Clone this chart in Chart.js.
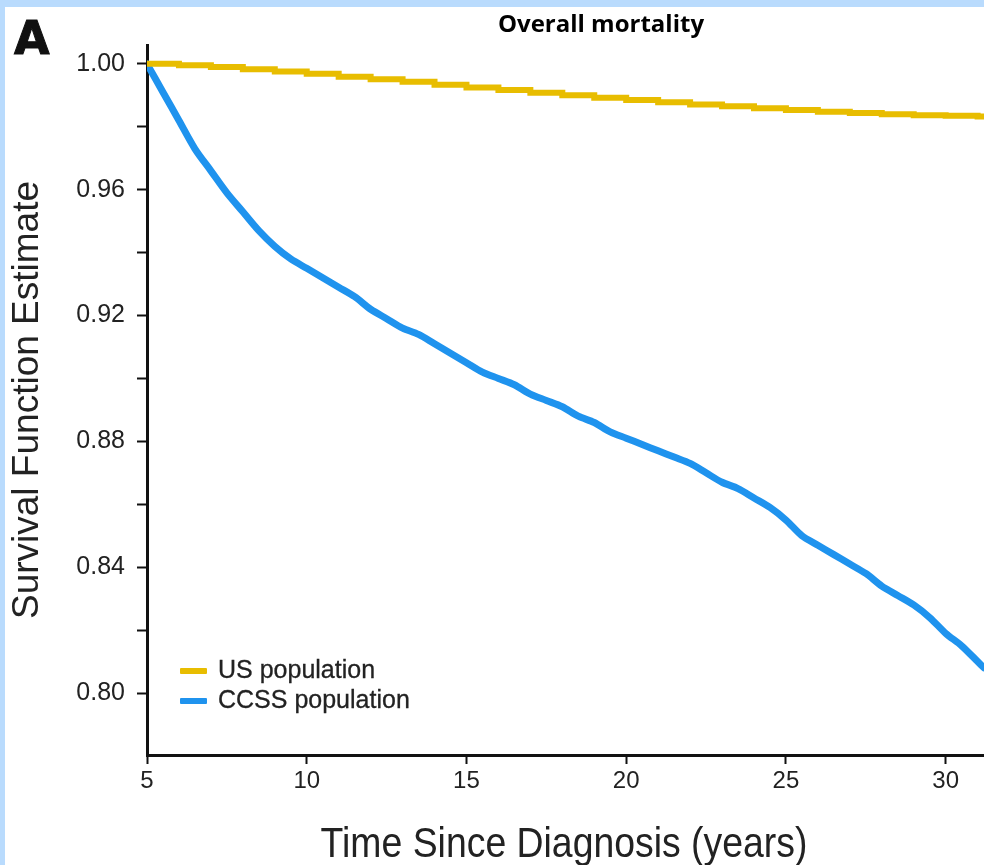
<!DOCTYPE html>
<html>
<head>
<meta charset="utf-8">
<script src="https://cdn.jsdelivr.net/npm/chart.js@4"></script>
<style>
    body { margin: 0; background: #b9dbfd; width: 984px; height: 865px; overflow: hidden; position: relative; }
    #wrap { position: absolute; left: 5px; top: 7px; width: 979px; height: 858px; background: #fff; }
    #panel { position: absolute; left: 14px; top: 15px; font: bold 46px "DejaVu Sans", sans-serif; color: #111; line-height: 46px; -webkit-text-stroke: 1px #111; }
    #title { position: absolute; left: 0; width: 1202px; top: 6px; text-align: center; font: bold 24px "Open Sans", sans-serif; color: #000; }
    #xtitle { position: absolute; left: 264px; width: 600px; top: 822px; text-align: center; font: 42px/42px "Liberation Sans", Arial, sans-serif; color: #222; transform: scaleX(0.89); white-space: nowrap; }
    #legend { position: absolute; left: 180px; top: 654px; font: 25px "Liberation Sans", Arial, sans-serif; color: #222; -webkit-text-stroke: 0.3px #222; }
    #legend div { height: 30px; line-height: 30px; white-space: nowrap; }
    #legend span.sw { display: inline-block; width: 27px; height: 6px; vertical-align: middle; margin-right: 11px; border-radius: 1px; }
</style>
</head>
<body>
<div id="wrap"><canvas id="km"></canvas></div>
<div id="panel">A</div>
<div id="title">Overall mortality</div>
<div id="xtitle">Time Since Diagnosis (years)</div>
<div id="legend"></div>
<script>
// 年ごとの生存率（米国一般人口）
const usYears = [5, 6, 7, 8, 9, 10, 11, 12, 13, 14, 15, 16, 17, 18, 19, 20, 21, 22, 23, 24, 25, 26, 27, 28, 29, 30, 31, 31.2];
const usSurvival = [1.000, 0.9996, 0.9990, 0.9983, 0.9976, 0.9969, 0.9959, 0.9951, 0.9943, 0.9934, 0.9925, 0.9917, 0.9908, 0.9900, 0.9892, 0.9885, 0.9878, 0.9871, 0.9865, 0.9859, 0.9853, 0.9848, 0.9844, 0.9840, 0.9837, 0.9835, 0.9833, 0.9833];

// CCSS 集団の生存率
const ccssYears = [5, 5.5, 6, 6.5, 7, 7.5, 8, 8.5, 9, 9.5, 10, 10.5, 11, 11.5, 12, 12.5, 13, 13.5, 14, 14.5, 15, 15.5, 16, 16.5, 17, 17.5, 18, 18.5, 19, 19.5, 20, 20.5, 21, 21.5, 22, 22.5, 23, 23.5, 24, 24.5, 25, 25.5, 26, 26.5, 27, 27.5, 28, 28.5, 29, 29.5, 30, 30.5, 31, 31.2];
const ccssSurvival = [1.000, 0.991, 0.982, 0.973, 0.966, 0.959, 0.953, 0.947, 0.942, 0.938, 0.935, 0.932, 0.929, 0.926, 0.922, 0.919, 0.916, 0.914, 0.911, 0.908, 0.905, 0.902, 0.900, 0.898, 0.895, 0.893, 0.891, 0.888, 0.886, 0.883, 0.881, 0.879, 0.877, 0.875, 0.873, 0.870, 0.867, 0.865, 0.862, 0.859, 0.855, 0.850, 0.847, 0.844, 0.841, 0.838, 0.834, 0.831, 0.828, 0.824, 0.819, 0.815, 0.810, 0.808];

const xTicks = [5, 10, 15, 20, 25, 30];
const yTicks = [0.80, 0.82, 0.84, 0.86, 0.88, 0.90, 0.92, 0.94, 0.96, 0.98, 1.00];
const yLabeled = ['0.80', '0.84', '0.88', '0.92', '0.96', '1.00'];

const seriesNames = ['US population', 'CCSS population'];
const seriesColors = ['#e8bd00', '#1f93ee'];

const toPoints = (xs, ys) => xs.map((x, i) => ({ x: x, y: ys[i] }));

const chart = new Chart(document.getElementById('km'), {
    type: 'line',
    data: {
        datasets: [
            { label: seriesNames[0], data: toPoints(usYears, usSurvival), borderColor: seriesColors[0], borderWidth: 6, stepped: true, pointRadius: 0 },
            { label: seriesNames[1], data: toPoints(ccssYears, ccssSurvival), borderColor: seriesColors[1], borderWidth: 7, tension: 0.3, pointRadius: 0, borderCapStyle: 'round', borderJoinStyle: 'round' }
        ]
    },
    options: {
        responsive: true,
        maintainAspectRatio: false,
        animation: false,
        layout: { padding: { top: 38, left: 0, right: 0, bottom: 0 } },
        plugins: { legend: { display: false }, tooltip: { enabled: false }, title: { display: false } },
        scales: {
            x: {
                type: 'linear', min: 5, max: 31.2,
                afterBuildTicks: s => { s.ticks = xTicks.map(v => ({ value: v })); },
                afterFit: s => { s.height = 110; },
                grid: { drawOnChartArea: false, drawTicks: true, tickLength: 9, tickWidth: 2, tickColor: '#111' },
                border: { display: true, color: '#111', width: 3 },
                ticks: { padding: 3, color: '#222', font: { family: '"Liberation Sans", Arial, sans-serif', size: 24 }, maxRotation: 0 },
                title: { display: false }
            },
            y: {
                type: 'linear', min: 0.7803, max: 1.006,
                afterBuildTicks: s => { s.ticks = yTicks.map(v => ({ value: v })); },
                afterFit: s => { s.width = 142; },
                grid: { drawOnChartArea: false, drawTicks: true, tickLength: 10, tickWidth: 2, tickColor: '#111' },
                border: { display: true, color: '#111', width: 3 },
                ticks: {
                    padding: 12, color: '#222', font: { family: '"Liberation Sans", Arial, sans-serif', size: 25 },
                    callback: v => { const t = v.toFixed(2); return yLabeled.includes(t) ? t : ''; }
                },
                title: { display: true, text: 'Survival Function Estimate', color: '#222', font: { family: '"Liberation Sans", Arial, sans-serif', size: 37 }, padding: { top: 1, bottom: 0 } }
            }
        }
    }
});

// 凡例（HTML で描画）
document.getElementById('legend').innerHTML = chart.data.datasets.map(ds =>
    `<div><span class="sw" style="background:${ds.borderColor}"></span>${ds.label}</div>`
).join('');
</script>
</body>
</html>
